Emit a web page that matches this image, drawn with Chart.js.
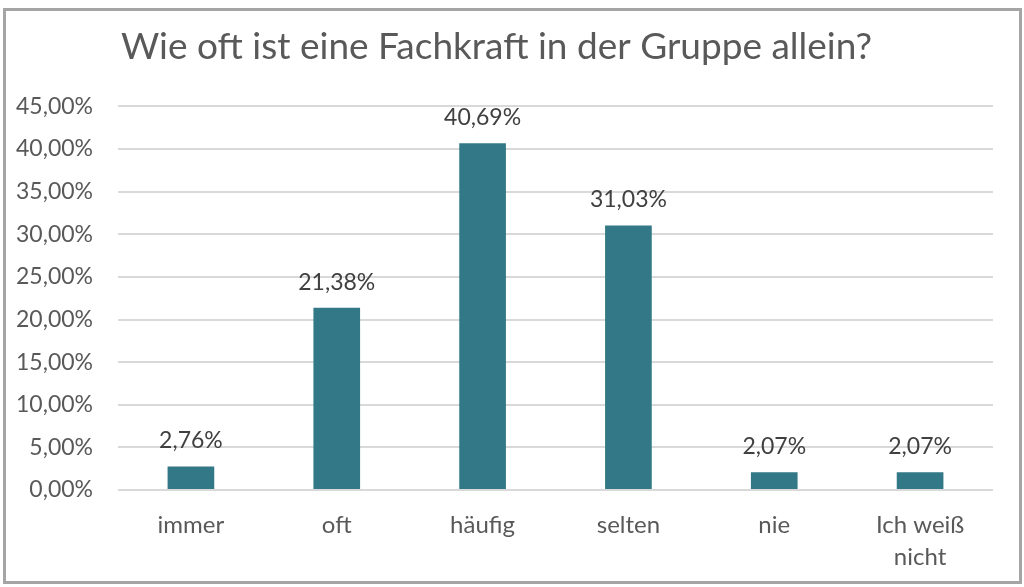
<!DOCTYPE html>
<html><head><meta charset="utf-8">
<script src="https://cdn.jsdelivr.net/npm/chart.js@4"></script>
<style>
html,body{margin:0;padding:0;background:#fff;}
#wrap{position:absolute;left:0;top:0;width:1024px;height:587px;}
#frame{position:absolute;left:3px;top:8px;width:1013px;height:570px;border:3px solid #a5a5a5;pointer-events:none;}
</style></head>
<body>
<div id="wrap"><canvas id="c" width="1024" height="587"></canvas></div>
<div id="frame"></div>
<script>
const categories = [["immer"], ["oft"], ["häufig"], ["selten"], ["nie"], ["Ich weiß", "nicht"]];
const values = [2.76, 21.38, 40.69, 31.03, 2.07, 2.07];
const yTicks = [0, 5, 10, 15, 20, 25, 30, 35, 40, 45];
const titleText = "Wie oft ist eine Fachkraft in der Gruppe allein?";

const fmt = v => v.toFixed(2).replace('.', ',') + '%';
const FONT = "Lato";

const labelPlugin = {
  id: 'barLabels',
  afterDatasetsDraw(chart) {
    const ctx = chart.ctx;
    const meta = chart.getDatasetMeta(0);
    ctx.save();
    ctx.font = "23px " + FONT;
    ctx.fillStyle = "#404040";
    ctx.textAlign = "center";
    ctx.textBaseline = "bottom";
    meta.data.forEach((bar, i) => {
      ctx.fillText(fmt(values[i]), bar.x, bar.y - 14);
    });
    ctx.restore();
  }
};

new Chart(document.getElementById('c'), {
  type: 'bar',
  data: {
    labels: categories,
    datasets: [{
      data: values,
      backgroundColor: '#327886',
      barPercentage: 0.32,
      categoryPercentage: 1.0
    }]
  },
  options: {
    responsive: false,
    animation: false,
    layout: { padding: { left: 0, right: 31, top: 0, bottom: 0 } },
    plugins: {
      legend: { display: false },
      tooltip: { enabled: false },
      title: {
        display: true,
        text: titleText,
        color: '#595959',
        font: { family: FONT, size: 37, weight: 'normal', lineHeight: 1.2 },
        padding: { top: 25, bottom: 37 }
      }
    },
    scales: {
      x: {
        grid: { display: false, drawTicks: false },
        border: { display: false },
        ticks: {
          color: '#595959',
          font: { family: FONT, size: 24, lineHeight: 1.35 },
          padding: 19,
          maxRotation: 0,
          autoSkip: false
        },
        afterFit(scale) { scale.height = 97; }
      },
      y: {
        min: 0, max: 45,
        afterBuildTicks(scale) { scale.ticks = yTicks.map(v => ({ value: v })); },
        grid: { color: '#d9d9d9', lineWidth: 2, drawTicks: false },
        border: { display: false },
        ticks: {
          color: '#595959',
          font: { family: FONT, size: 23 },
          padding: 25,
          callback: v => fmt(v)
        },
        afterFit(scale) { scale.width = 118; }
      }
    }
  },
  plugins: [labelPlugin]
});
</script>
</body></html>
